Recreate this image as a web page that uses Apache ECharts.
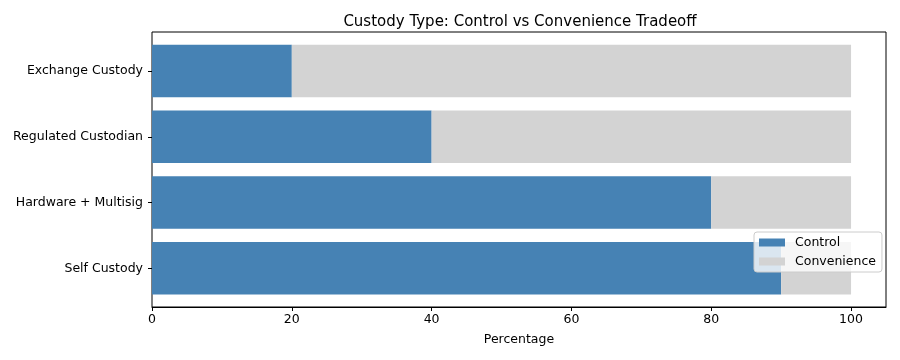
<!DOCTYPE html>
<html>
<head>
<meta charset="utf-8">
<script src="https://cdn.jsdelivr.net/npm/echarts@6/dist/echarts.min.js"></script>
<style>html,body{margin:0;padding:0;background:#fff}#c{width:900px;height:360px}</style>
</head>
<body>
<div id="c"></div>
<script>
const categories = ["Self Custody", "Hardware + Multisig", "Regulated Custodian", "Exchange Custody"];
const controlValues = [90, 80, 40, 20];
const convenienceValues = [10, 20, 60, 80];
const xTicks = [0, 20, 40, 60, 80, 100];

const FONT = "DejaVu Sans";
const TICK_FS = 12.5;
const chart = echarts.init(document.getElementById('c'), null, {renderer: 'canvas'});
chart.setOption({
  animation: false,
  backgroundColor: '#fff',
  textStyle: {fontFamily: FONT},
  title: {
    text: 'Custody Type: Control vs Convenience Tradeoff',
    left: 515, top: 10, textAlign: 'center',
    textStyle: {fontFamily: FONT, fontSize: 15, fontWeight: 'normal', color: '#000'}
  },
  legend: {
    left: 754, top: 232,
    orient: 'vertical',
    itemWidth: 26, itemHeight: 8, itemGap: 4,
    padding: [3, 6, 3, 5],
    backgroundColor: 'rgba(255,255,255,0.8)',
    borderColor: '#cccccc', borderWidth: 1, borderRadius: 3,
    icon: 'rect',
    textStyle: {fontFamily: FONT, fontSize: TICK_FS, color: '#000', padding: [0, 0, 0, 5], lineHeight: 15},
    data: ['Control', 'Convenience']
  },
  grid: [
    {left: 152, top: 32, width: 734, height: 275, show: true, borderColor: '#000', borderWidth: 1, backgroundColor: 'transparent'},
    {left: 152, top: 38.1, width: 734, height: 263.1}
  ],
  xAxis: [
    {
      gridIndex: 0, type: 'value', min: 0, max: 105,
      axisLine: {show: true, lineStyle: {color: '#000', width: 1}},
      axisTick: {show: true, inside: false, length: 4, lineStyle: {color: '#000'}, customValues: xTicks},
      splitLine: {show: false},
      axisLabel: {
        fontFamily: FONT, fontSize: TICK_FS, color: '#000', margin: 6,
        customValues: xTicks
      },
      name: 'Percentage', nameLocation: 'middle', nameGap: 26,
      nameTextStyle: {fontFamily: FONT, fontSize: TICK_FS, color: '#000'}
    },
    {gridIndex: 1, type: 'value', min: 0, max: 105, show: false}
  ],
  yAxis: [
    {gridIndex: 0, type: 'value', min: 0, max: 1, show: false},
    {
      gridIndex: 1, type: 'category', data: categories,
      axisLine: {show: false},
      axisTick: {show: true, alignWithLabel: true, length: 4, lineStyle: {color: '#000'}},
      axisLabel: {fontFamily: FONT, fontSize: TICK_FS, color: '#000', margin: 9},
      splitLine: {show: false}
    }
  ],
  series: [
    {
      name: 'Control', type: 'bar', stack: 'total', xAxisIndex: 1, yAxisIndex: 1,
      barWidth: '80%', itemStyle: {color: '#4682b4', borderWidth: 0, borderRadius: 0}, data: controlValues
    },
    {
      name: 'Convenience', type: 'bar', stack: 'total', xAxisIndex: 1, yAxisIndex: 1,
      barWidth: '80%', itemStyle: {color: '#d3d3d3', borderWidth: 0, borderRadius: 0}, data: convenienceValues
    }
  ]
});
</script>
</body>
</html>
